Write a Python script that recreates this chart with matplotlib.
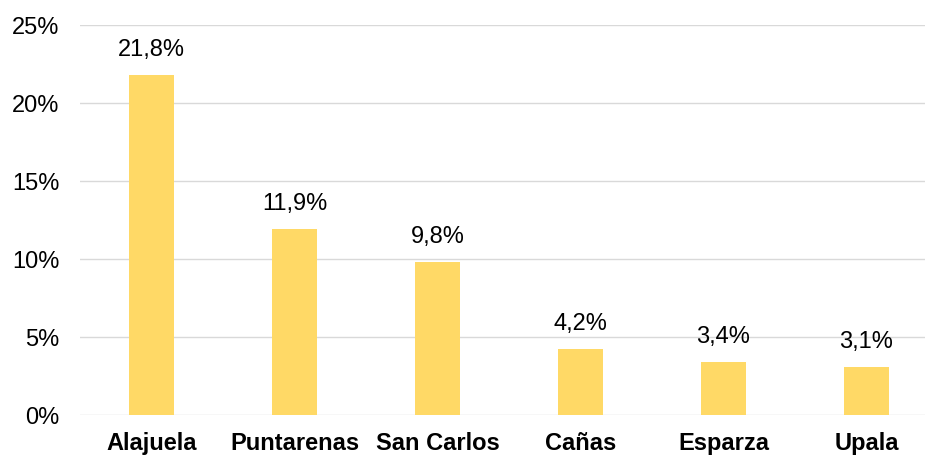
import matplotlib.pyplot as plt
import numpy as np

plt.rcParams['font.family'] = ['Liberation Sans', 'DejaVu Sans']

cantones = ['Alajuela', 'Puntarenas', 'San Carlos', 'Cañas', 'Esparza', 'Upala']
porcentajes = [21.8, 11.9, 9.8, 4.2, 3.4, 3.1]
yticks = [0, 5, 10, 15, 20, 25]

fig = plt.figure(figsize=(9.25, 4.55), dpi=100)
ax = fig.add_axes([80/925, 40/455, 845/925, 390/455])

x = np.arange(len(cantones))
ax.bar(x, porcentajes, width=0.315, color='#FFD966', zorder=3)

for xi, v in zip(x, porcentajes):
    ax.text(xi, v + 0.9, f'{v:.1f}%'.replace('.', ','), ha='center', va='bottom',
            fontsize=17, color='#000000')

ax.set_xlim(-0.5, 5.41)
ax.set_ylim(0, 25)
ax.set_yticks(yticks)
ax.set_yticklabels([f'{t}%' for t in yticks], fontsize=17)
ax.set_xticks(x)
ax.set_xticklabels(cantones, fontsize=17, fontweight='bold')
ax.grid(axis='y', color='#D9D9D9', linewidth=1, zorder=0)
for s in ['top', 'right', 'left', 'bottom']:
    ax.spines[s].set_visible(False)
ax.tick_params(axis='both', length=0)
ax.tick_params(axis='y', pad=15)
ax.tick_params(axis='x', pad=12)

fig.savefig('out.png', dpi=100)
